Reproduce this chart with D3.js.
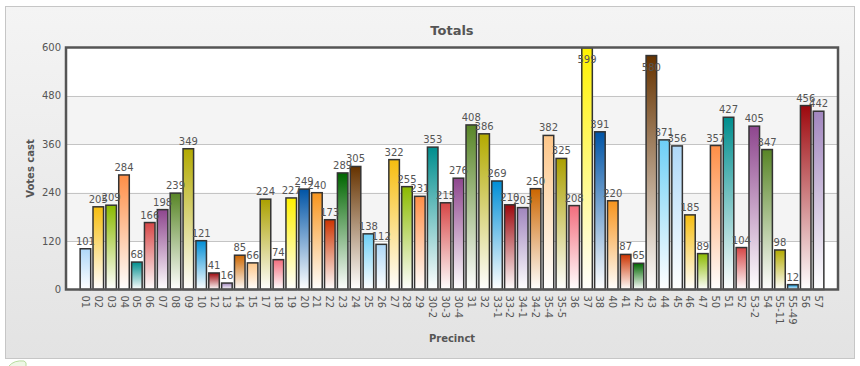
<!DOCTYPE html>
<html><head><meta charset="utf-8">
<script src="https://cdn.jsdelivr.net/npm/d3@7"></script>
<style>html,body{margin:0;padding:0;background:#fff;}svg{display:block;}</style>
</head><body>
<script>
const categories = ["01","02","03","04","05","06","07","08","09","10","12","13","14","15","17","18","19","20","21","22","23","24","25","26","27","28","29","30-2","30-3","30-4","31","32","33-1","33-2","34-1","34-2","35-4","35-5","36","37","38","40","41","42","43","44","45","46","47","50","51","52","53-2","54","55-11","55-49","56","57"];
const votes = [101,205,209,284,68,166,198,239,349,121,41,16,85,66,224,74,227,249,240,173,289,305,138,112,322,255,231,353,215,276,408,386,269,210,203,250,382,325,208,599,391,220,87,65,580,371,356,185,89,357,427,104,405,347,98,12,456,442];
const yTicks = [0,120,240,360,480,600];
const palette = ["#AFD8F8","#F6BD0F","#8BBA00","#FF8E46","#008E8E","#D64646","#8E468E","#588526","#B3AA00","#008ED6","#9D080D","#A186BE","#CC6600","#FDC689","#ABA000","#F26D7D","#FFF200","#0054A6","#F7941C","#CC3300","#006600","#663300","#6DCFF6"];

const W = 860, H = 366;
const m = {left: 66, right: 838, top: 47.5, bottom: 289.5};
const font = "'DejaVu Sans', Verdana, sans-serif";

const svg = d3.select("body").append("svg").attr("width", W).attr("height", H);
const defs = svg.append("defs");

const bg = defs.append("linearGradient").attr("id","bg").attr("x1",0).attr("y1",0).attr("x2",0).attr("y2",1);
bg.append("stop").attr("offset","0%").attr("stop-color","#f4f4f4");
bg.append("stop").attr("offset","100%").attr("stop-color","#e3e3e3");

palette.forEach((c,i)=>{
  const g = defs.append("linearGradient").attr("id","g"+i).attr("x1",0).attr("y1",0).attr("x2",0).attr("y2",1);
  g.append("stop").attr("offset","0%").attr("stop-color",c);
  g.append("stop").attr("offset","100%").attr("stop-color","#ffffff");
});

// outer panel
svg.append("rect").attr("x",5.5).attr("y",6.5).attr("width",849).attr("height",352)
  .attr("fill","url(#bg)").attr("stroke","#c6c6c6").attr("stroke-width",1);

// small logo arc at bottom-left
svg.append("path").attr("d","M9,366 Q14,360 24,361 Q27,362 26,366").attr("fill","#eef7e6").attr("stroke","#b8dca0").attr("stroke-width",1);

const x = d3.scaleBand().domain(categories).range([m.left, m.right]).paddingInner(0.18).paddingOuter(1.1);
const y = d3.scaleLinear().domain([0,600]).range([m.bottom, m.top]);

// plot background bands
const plot = svg.append("g");
for (let i = 0; i < yTicks.length-1; i++) {
  plot.append("rect").attr("x", m.left).attr("width", m.right-m.left)
    .attr("y", y(yTicks[i+1])).attr("height", y(yTicks[i]) - y(yTicks[i+1]))
    .attr("fill", i % 2 === 0 ? "#ffffff" : "#f4f4f4");
}
// gridlines
plot.selectAll("line.grid").data(yTicks.slice(1,-1)).join("line")
  .attr("x1", m.left).attr("x2", m.right)
  .attr("y1", d=>Math.round(y(d))+0.5).attr("y2", d=>Math.round(y(d))+0.5)
  .attr("stroke","#c4c4c4").attr("stroke-width",1);

// bars
const data = categories.map((c,i)=>({c, v: votes[i], i}));
svg.append("g").selectAll("rect").data(data).join("rect")
  .attr("x", d=>x(d.c)).attr("width", x.bandwidth())
  .attr("y", d=>y(d.v)).attr("height", d=>y(0)-y(d.v))
  .attr("fill", d=>`url(#g${d.i % palette.length})`)
  .attr("stroke","#333").attr("stroke-width",1.5);

// plot border
svg.append("rect").attr("x", m.left).attr("y", m.top).attr("width", m.right-m.left).attr("height", m.bottom-m.top)
  .attr("fill","none").attr("stroke","#555").attr("stroke-width",2.5);

// value labels
svg.append("g").selectAll("text").data(data).join("text")
  .attr("x", d=>x(d.c)+x.bandwidth()/2)
  .attr("y", d=>{ const t = y(d.v); return (t - 14 < m.top) ? t + 15 : t - 4; })
  .attr("text-anchor","middle").attr("font-family",font).attr("font-size",10).attr("fill","#555")
  .text(d=>d.v);

// y tick labels
svg.append("g").selectAll("text").data(yTicks).join("text")
  .attr("x", m.left-5).attr("y", d=>y(d)).attr("dy","0.35em")
  .attr("text-anchor","end").attr("font-family",font).attr("font-size",10).attr("fill","#555")
  .text(d=>d);

// x tick labels rotated
svg.append("g").selectAll("text").data(categories).join("text")
  .attr("transform", d=>`translate(${x(d)+x.bandwidth()/2},${m.bottom+6}) rotate(90)`)
  .attr("dy","0.35em").attr("text-anchor","start")
  .attr("font-family",font).attr("font-size",10).attr("fill","#555")
  .text(d=>d);

// titles
svg.append("text").attr("x",(m.left+m.right)/2).attr("y",35).attr("text-anchor","middle")
  .attr("font-family",font).attr("font-size",13).attr("font-weight","bold").attr("fill","#555").text("Totals");
svg.append("text").attr("x",(m.left+m.right)/2).attr("y",342).attr("text-anchor","middle")
  .attr("font-family",font).attr("font-size",10).attr("font-weight","bold").attr("fill","#555").text("Precinct");
svg.append("text").attr("transform",`translate(34,${(m.top+m.bottom)/2}) rotate(-90)`).attr("text-anchor","middle")
  .attr("font-family",font).attr("font-size",10).attr("font-weight","bold").attr("fill","#555").text("Votes cast");
</script>
</body></html>
